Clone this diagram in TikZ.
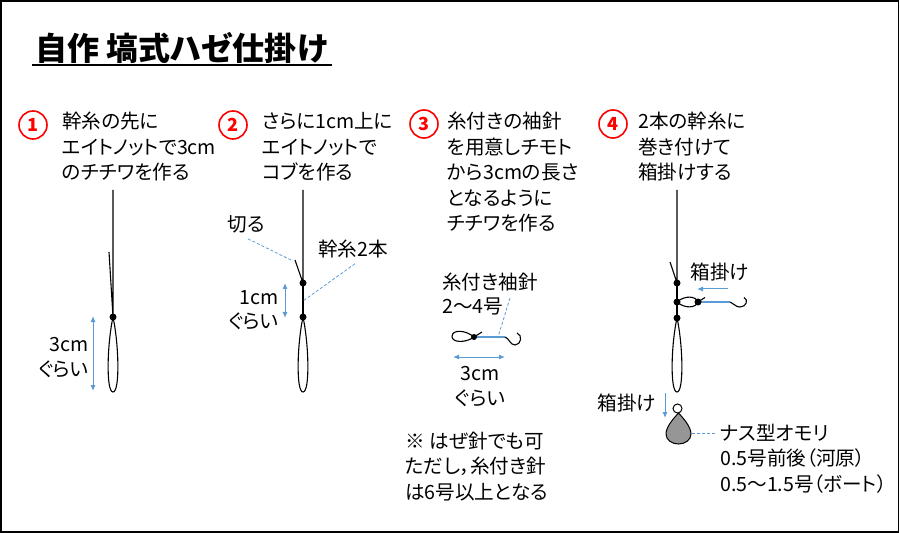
\documentclass[tikz,border=0pt]{standalone}
\usepackage{fontspec}
\setmainfont{Noto Sans CJK JP}[RawFeature=+palt]
\usepackage{xcolor}
\usetikzlibrary{positioning,arrows.meta}
\definecolor{lineblue}{RGB}{91,155,213}
\definecolor{sinkergray}{RGB}{150,150,150}

\begin{document}
\begin{tikzpicture}[x=1bp,y=-1bp,
  txt/.style={font=\fontsize{19.6bp}{25.5bp}\selectfont,inner sep=0pt,align=left},
  lbl/.style={font=\fontsize{19.6bp}{24.5bp}\selectfont,inner sep=0pt},
  num/.style={circle,draw=red,line width=1.6bp,text=red,minimum size=28bp,inner sep=0pt,font=\fontsize{18bp}{18bp}\selectfont\bfseries},
  leader/.style={draw=lineblue,dash pattern=on 3bp off 2bp,line width=.8bp},
  measure/.style={lineblue,line width=1bp,{Latex[length=6bp,width=5bp]}-{Latex[length=6bp,width=5bp]}},
  pull/.style={lineblue,line width=1bp,-{Latex[length=6bp,width=5bp]}},
  thread/.style={line width=1.1bp},
  double/.style={line width=2.6bp}]
\useasboundingbox (0,0) rectangle (900,533);
\draw[line width=1.5bp] (1,1) rectangle (898.5,532);

% title (multi-line nodes below are placed by the baseline of their last line)
\node[anchor=base west,inner sep=0pt,font=\fontsize{32bp}{32bp}\selectfont\bfseries] (title) at (35,61) {自作 塙式ハゼ仕掛け};
\draw[line width=2bp] ([xshift=-3bp,yshift=-4bp]title.base west) -- ([xshift=4bp,yshift=-4bp]title.base east);

% steps
\node[num] (n1) at (33,125) {1};
\node[txt,anchor=base west] (s1) at (62,180) {幹糸の先に\\エイトノットで3cm\\のチチワを作る};
\node[num] (n2) at (233,125) {2};
\node[txt,anchor=base west] (s2) at (262,180) {さらに1cm上に\\エイトノットで\\コブを作る};
\node[num] (n3) at (424,124) {3};
\node[txt,anchor=base west] (s3) at (447,231) {糸付きの袖針\\を用意しチモト\\から3cmの長さ\\となるように\\チチワを作る};
\node[num] (n4) at (613,124) {4};
\node[txt,anchor=base west] (s4) at (638,180) {2本の幹糸に\\巻き付けて\\箱掛けする};

% 1: chichiwa
\coordinate (top1) at (113,190);
\coordinate (k1) at (113,317);
\coordinate (tag1) at (109,252);
\draw[thread] (top1) -- (k1) -- (tag1);
\draw[thread] (k1) .. controls (107,345) and (106,392) .. (113,392) .. controls (120,392) and (119,345) .. (k1);
\fill (k1) circle (3.5);
\coordinate (m1a) at (93,316);
\coordinate (m1b) at (93,391);
\draw[measure] (m1a) -- (m1b);
\node[lbl,align=right,anchor=base east] (len1) at (89,376) {3cm\\ぐらい};

% 2: kobu
\coordinate (top2) at (303,190);
\coordinate (k2a) at (303,283);
\coordinate (k2b) at (303,317);
\coordinate (tag2) at (295,260);
\draw[thread] (top2) -- (k2a) -- (tag2);
\draw[double] (k2a) -- (k2b);
\draw[thread] (k2b) .. controls (297,345) and (296,392) .. (303,392) .. controls (310,392) and (309,345) .. (k2b);
\fill (k2a) circle (3.5);
\fill (k2b) circle (3.5);
\coordinate (m2a) at (285,283);
\coordinate (m2b) at (285,318);
\draw[measure] (m2a) -- (m2b);
\node[lbl,align=right,anchor=base east] (len2) at (279,329) {1cm\\ぐらい};
\node[lbl,anchor=base] (cut) at (246,232) {切る};
\coordinate (cutp) at (293,261);
\draw[leader] ([xshift=2bp,yshift=-5bp]cut.south) -- (cutp);
\node[lbl,anchor=base] (mainline) at (353,257) {幹糸2本};
\coordinate (mainp) at (303,301);
\draw[leader] ([xshift=2bp,yshift=-5bp]mainline.south) -- (mainp);

% 3: hook
\node[lbl,align=left,anchor=base west] (hooklbl) at (442,314) {糸付き袖針\\2〜4号};
\coordinate (k3) at (474,337);
\coordinate (h3) at (505,337);
\coordinate (tag3) at (482,332);
\draw[thread] (k3) .. controls (466,330) and (452,329) .. (452,336.5) .. controls (452,343) and (466,343) .. (k3) -- (tag3);
\draw[lineblue,line width=1.6bp] (k3) -- (h3);
\draw[thread] (h3) .. controls (509,338) and (510,345) .. (515,345) .. controls (521,345) and (523,335) .. (517,333);
\fill (k3) circle (3);
\coordinate (hooktxt) at (510,298);
\coordinate (hookp) at (498,337);
\draw[leader] (hooktxt) -- (hookp);
\coordinate (m3a) at (453,357);
\coordinate (m3b) at (505,357);
\draw[measure] (m3a) -- (m3b);
\node[lbl,align=center,anchor=base] (len3) at (480,405) {3cm\\ぐらい};
\node[txt,anchor=base west] (note) at (405,499) {※ はぜ針でも可\\ただし，糸付き針\\は6号以上となる};

% 4: hakogake
\coordinate (top4) at (677,190);
\coordinate (k4a) at (677,283);
\coordinate (k4b) at (677,302);
\coordinate (k4c) at (677,318);
\coordinate (tag4) at (670,262);
\coordinate (k4h) at (698,302);
\coordinate (h4) at (730,302);
\draw[thread] (top4) -- (k4a) -- (tag4);
\draw[double] (k4a) -- (k4c);
\draw[thread] (k4c) .. controls (671,345) and (670,392) .. (677,392) .. controls (684,392) and (683,345) .. (k4c);
\draw[thread] (k4b) .. controls (685,295) and (696,296) .. (k4h) .. controls (696,308) and (685,309) .. (k4b);
\draw[thread] (k4h) -- (705,297.5);
\draw[lineblue,line width=1.6bp] (k4h) -- (h4);
\draw[thread] (h4) .. controls (734,303) and (735,307) .. (740,307) .. controls (746,307) and (749,300) .. (744,297.5);
\fill (k4a) circle (3.5);
\fill (k4b) circle (3.5);
\fill (k4c) circle (3.5);
\fill (k4h) circle (3.5);
\coordinate (p4a) at (728,289);
\coordinate (p4b) at (697,289);
\draw[pull] (p4a) -- (p4b);
\node[lbl,anchor=base] (box1) at (720,280) {箱掛け};

% sinker
\node[lbl,anchor=base] (box2) at (627,410) {箱掛け};
\coordinate (p5a) at (665,393);
\coordinate (p5b) at (665,418);
\draw[pull] (p5a) -- (p5b);
\draw[line width=1bp] (677.5,408.5) circle (4.5);
\coordinate (snk) at (678.5,413);
\filldraw[fill=sinkergray,line width=1bp] (snk) .. controls (673,419) and (666,427) .. (666,434) .. controls (666,440) and (672,444) .. (678.5,444) .. controls (685,444) and (691,440) .. (691,434) .. controls (691,427) and (684,419) .. (snk) -- cycle;
\node[txt,anchor=base west] (sinker) at (720,491) {ナス型オモリ\\0.5号前後（河原）\\0.5〜1.5号（ボート）};
\coordinate (snkp) at (692,433);
\coordinate (snkt) at (717,433);
\draw[leader] (snkp) -- (snkt);
\end{tikzpicture}
\end{document}
